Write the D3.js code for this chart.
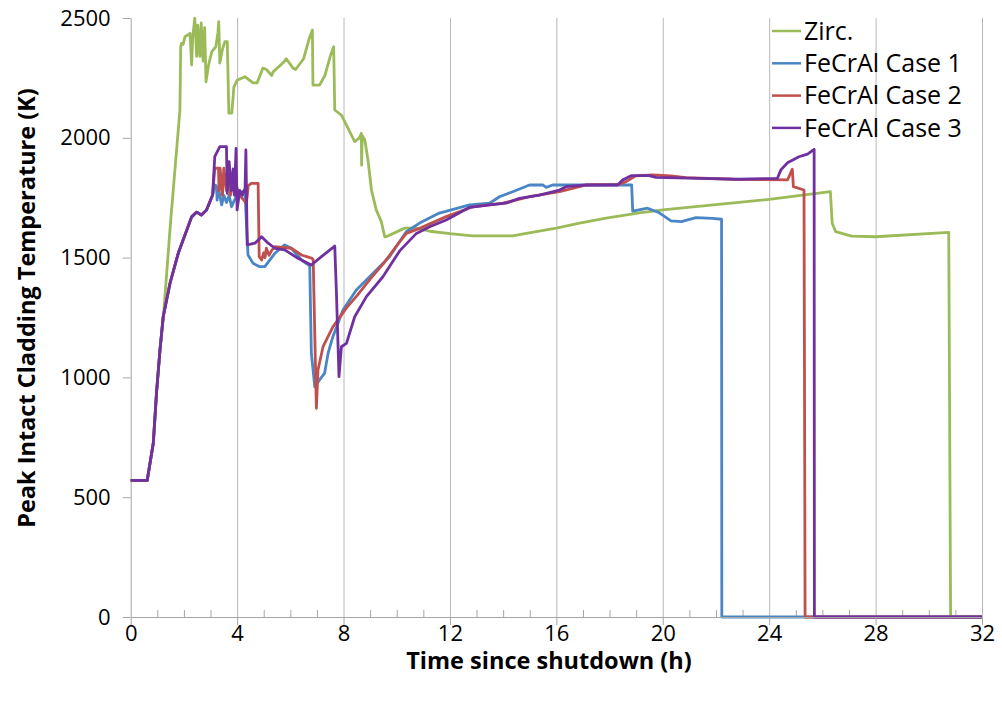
<!DOCTYPE html>
<html>
<head>
<meta charset="utf-8">
<script src="https://cdn.jsdelivr.net/npm/d3@7"></script>
<style>
  body { margin: 0; background: #fff; }
  svg { font-family: "Open Sans", "Noto Sans", sans-serif; }
</style>
</head>
<body>
<script>
// series: [time (h), temperature (K)]
var zirc = [[0,570],[0.62,570],[0.85,726],[0.97,935],[1.1,1114],[1.22,1240],[1.5,1650],[1.85,2116],[1.88,2379],[1.91,2394],[1.97,2390],[2.04,2422],[2.16,2430],[2.23,2436],[2.29,2304],[2.33,2420],[2.41,2499],[2.48,2340],[2.52,2470],[2.6,2340],[2.65,2480],[2.72,2320],[2.78,2460],[2.83,2234],[2.92,2300],[3.05,2360],[3.2,2380],[3.28,2440],[3.31,2485],[3.35,2312],[3.45,2370],[3.54,2401],[3.63,2401],[3.69,2103],[3.8,2103],[3.88,2213],[4.0,2240],[4.29,2255],[4.6,2229],[4.75,2229],[4.97,2291],[5.1,2285],[5.3,2260],[5.35,2275],[5.72,2312],[5.85,2330],[6.1,2291],[6.2,2285],[6.5,2330],[6.7,2410],[6.83,2450],[6.85,2220],[7.1,2220],[7.3,2260],[7.5,2340],[7.63,2380],[7.67,2116],[7.92,2095],[8.11,2053],[8.42,1984],[8.6,2000],[8.67,2019],[8.68,1886],[8.7,2010],[8.8,1991],[8.92,1907],[9.05,1782],[9.23,1699],[9.42,1650],[9.55,1587],[9.6,1587],[10.3,1623],[10.73,1623],[11.24,1610],[12,1600],[12.85,1591],[14.35,1591],[15.24,1608],[16,1623],[16.87,1644],[17.87,1665],[19.12,1687],[20,1699],[24,1743],[26.3,1775],[26.37,1643],[26.5,1608],[27.1,1590],[28,1587],[30.75,1605],[30.82,0],[32,0]];

var case1 = [[0,570],[0.62,570],[0.85,726],[0.97,935],[1.1,1114],[1.22,1252],[1.48,1394],[1.79,1519],[2.29,1670],[2.48,1690],[2.66,1678],[2.85,1699],[3.08,1761],[3.16,1803],[3.22,1800],[3.25,1740],[3.3,1790],[3.42,1720],[3.5,1760],[3.6,1730],[3.7,1760],[3.79,1712],[3.9,1740],[4.0,1760],[4.29,1782],[4.41,1511],[4.6,1476],[4.85,1462],[5.04,1462],[5.42,1518],[5.79,1553],[6.04,1539],[6.42,1490],[6.73,1465],[6.79,1101],[6.92,961],[7.0,975],[7.29,1018],[7.42,1101],[7.6,1170],[7.98,1281],[8.48,1365],[8.98,1420],[9.73,1504],[10.36,1608],[10.86,1644],[11.6,1686],[12.74,1720],[13.49,1727],[13.86,1754],[14.36,1775],[14.99,1803],[15.49,1803],[15.62,1793],[15.86,1803],[18.83,1803],[18.87,1694],[19.43,1706],[19.87,1687],[20.31,1653],[20.7,1650],[21.25,1667],[21.87,1664],[22.21,1660],[22.22,0],[32,0]];

var case2 = [[0,570],[0.62,570],[0.85,726],[0.97,935],[1.1,1114],[1.22,1252],[1.48,1394],[1.79,1519],[2.29,1670],[2.48,1690],[2.66,1678],[2.85,1699],[3.08,1761],[3.16,1873],[3.3,1873],[3.32,1780],[3.36,1873],[3.45,1760],[3.5,1873],[3.6,1780],[3.65,1873],[3.75,1760],[3.85,1810],[3.98,1796],[4.1,1760],[4.35,1726],[4.42,1800],[4.54,1810],[4.79,1810],[4.83,1504],[4.92,1490],[5.0,1520],[5.05,1500],[5.1,1539],[5.2,1510],[5.3,1530],[5.42,1546],[6.04,1539],[6.42,1511],[6.82,1497],[6.86,1490],[6.98,871],[7.04,1031],[7.23,1128],[7.6,1211],[8.11,1290],[8.5,1340],[9.0,1410],[9.5,1475],[10.1,1565],[10.36,1601],[10.86,1622],[11.86,1671],[12.86,1712],[13.99,1727],[14.99,1754],[16.12,1775],[16.61,1789],[17.12,1803],[18.37,1806],[18.62,1817],[18.99,1841],[19.62,1845],[20.31,1841],[20.87,1834],[22.62,1827],[24.69,1824],[24.87,1869],[24.91,1796],[25.31,1782],[25.35,0],[32,0]];

var case3 = [[0,570],[0.62,570],[0.85,726],[0.97,935],[1.1,1114],[1.22,1252],[1.48,1394],[1.79,1519],[2.29,1670],[2.48,1690],[2.66,1678],[2.85,1699],[3.08,1761],[3.16,1921],[3.35,1963],[3.6,1963],[3.63,1768],[3.7,1900],[3.78,1780],[3.85,1870],[3.9,1760],[3.96,1956],[4.0,1699],[4.1,1780],[4.2,1760],[4.3,1790],[4.33,1949],[4.38,1553],[4.67,1560],[4.85,1580],[4.92,1587],[5.17,1560],[5.42,1539],[5.79,1532],[6.29,1497],[6.79,1469],[7.17,1504],[7.67,1548],[7.73,1365],[7.83,1003],[7.92,1128],[8.11,1142],[8.42,1253],[8.86,1337],[9.48,1420],[10.11,1528],[10.74,1601],[11.24,1629],[11.86,1657],[12.74,1710],[13.49,1720],[14.11,1727],[14.61,1747],[15.36,1761],[16.12,1782],[16.37,1796],[17.12,1803],[18.3,1803],[18.49,1824],[18.81,1842],[19.49,1842],[19.74,1835],[21.37,1831],[22.87,1827],[24.31,1831],[24.44,1866],[24.69,1896],[25.12,1921],[25.44,1932],[25.69,1952],[25.7,0],[32,0]];

var series_names = ['Zirc.', 'FeCrAl Case 1', 'FeCrAl Case 2', 'FeCrAl Case 3'];
var series_colors = ['#9bbb59', '#4a86c5', '#c0504d', '#7030a0'];
var x_ticks = [0, 4, 8, 12, 16, 20, 24, 28, 32];
var y_ticks = [0, 500, 1000, 1500, 2000, 2500];

var width = 1002, height = 708;
var left = 130.7, right = 982, top_y = 18, bottom = 617;

var svg = d3.select('body').append('svg').attr('width', width).attr('height', height);

var x = d3.scaleLinear().domain([0, 32]).range([left, right]);
var y = d3.scaleLinear().domain([0, 2500]).range([bottom, top_y]);

// vertical gridlines every 4 h
svg.append('g').attr('transform', 'translate(0,' + bottom + ')')
  .call(d3.axisBottom(x).tickValues(x_ticks.slice(1)).tickSize(-(bottom - top_y)).tickFormat(''))
  .call(g => g.select('.domain').remove())
  .selectAll('line').attr('stroke', '#b8b8b8').attr('stroke-width', 1);

// minor ticks (every hour, pointing up)
var minors = d3.range(0, 33).filter(d => d % 4 != 0);
svg.append('g').attr('transform', 'translate(0,' + bottom + ')')
  .call(d3.axisBottom(x).tickValues(minors).tickSize(-7).tickFormat(''))
  .call(g => g.select('.domain').remove())
  .selectAll('line').attr('stroke', '#a6a6a6');

// y axis
var yaxis = svg.append('g').attr('transform', 'translate(' + left + ',0)')
  .call(d3.axisLeft(y).tickValues(y_ticks).tickFormat(d3.format('d')).tickSize(8).tickPadding(12).tickSizeOuter(0));
yaxis.select('.domain').attr('stroke', '#a6a6a6');
yaxis.selectAll('line').attr('stroke', '#a6a6a6');
yaxis.selectAll('text').attr('font-size', '22px').attr('fill', '#000').attr('font-family', '"Open Sans"');

// lines
var line = d3.line().x(d => x(d[0])).y(d => y(d[1]));
[zirc, case1, case2, case3].forEach(function(data, i) {
  svg.append('path').datum(data)
    .attr('d', line)
    .attr('fill', 'none')
    .attr('stroke', series_colors[i])
    .attr('stroke-width', 2.8)
    .attr('stroke-linejoin', 'round');
});

// x axis (drawn on top)
var xaxis = svg.append('g').attr('transform', 'translate(0,' + bottom + ')')
  .call(d3.axisBottom(x).tickValues(x_ticks).tickSize(8).tickPadding(0).tickSizeOuter(0));
xaxis.select('.domain').attr('stroke', '#a6a6a6');
xaxis.selectAll('line').attr('stroke', '#a6a6a6');
xaxis.selectAll('text').attr('font-size', '22px').attr('fill', '#000').attr('font-family', '"Open Sans"');

// axis titles
svg.append('text').text('Time since shutdown (h)')
  .attr('x', 549).attr('y', 669).attr('text-anchor', 'middle')
  .attr('font-size', '23.5px').attr('font-weight', 'bold').attr('fill', '#000');
svg.append('text').text('Peak Intact Cladding Temperature (K)')
  .attr('transform', 'translate(35,308) rotate(-90)').attr('text-anchor', 'middle')
  .attr('font-size', '23.5px').attr('font-weight', 'bold').attr('fill', '#000');

// legend
var legend = svg.append('g').attr('transform', 'translate(772,31)');
series_names.forEach(function(name, i) {
  var row = legend.append('g').attr('transform', 'translate(0,' + (i * 32.3) + ')');
  row.append('line').attr('x1', 0).attr('x2', 29).attr('y1', 0).attr('y2', 0)
    .attr('stroke', series_colors[i]).attr('stroke-width', 2.5);
  row.append('text').text(name).attr('x', 32).attr('y', 0).attr('dy', '0.35em')
    .attr('font-size', '25px').attr('fill', '#000');
});
</script>
</body>
</html>
